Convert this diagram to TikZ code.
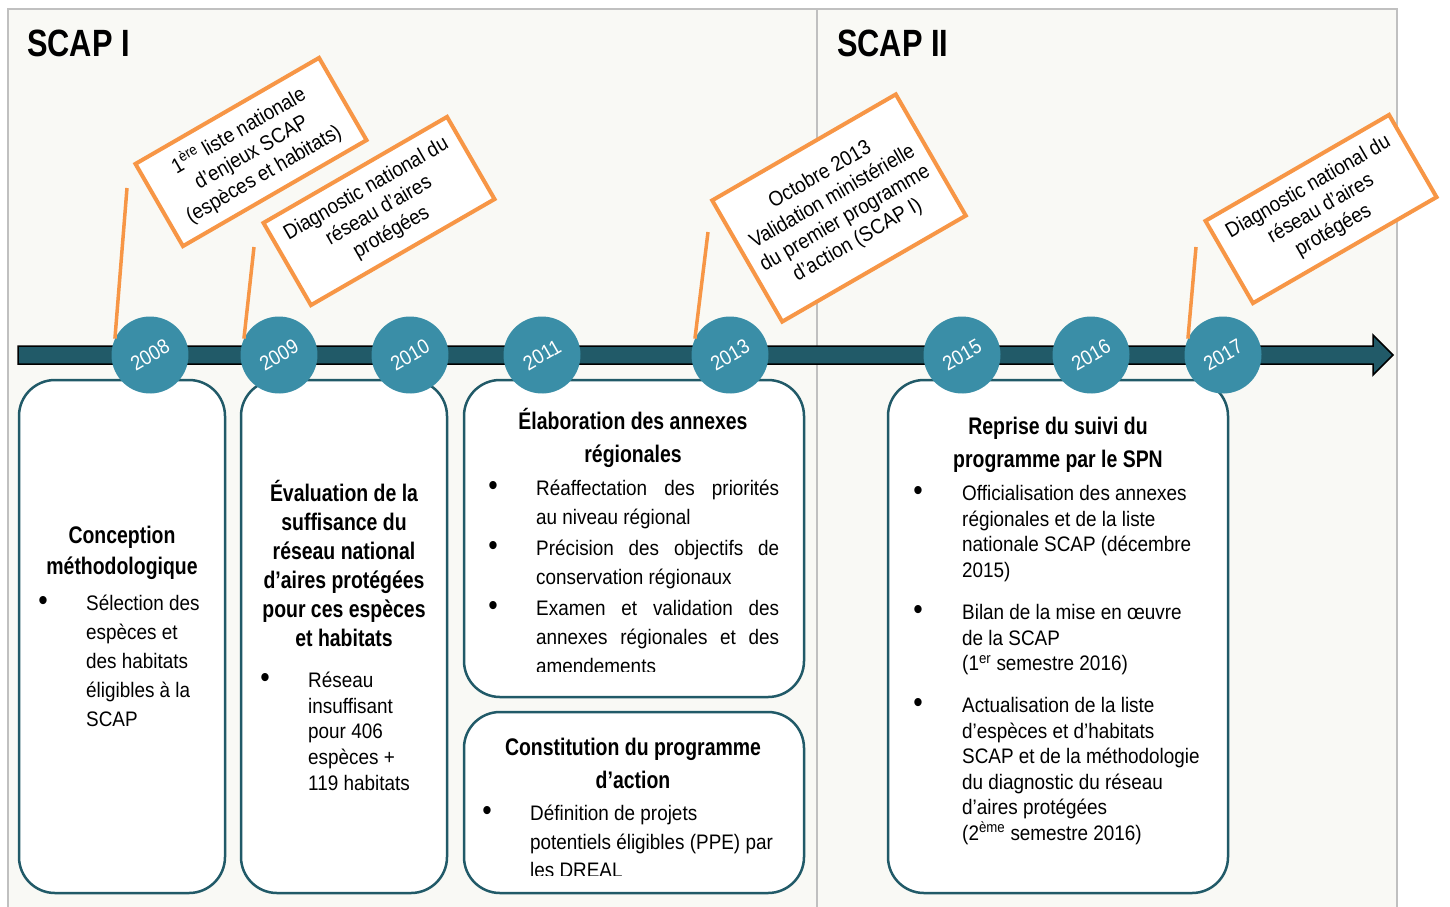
\documentclass[tikz,border=0pt]{standalone}
\usepackage{fontspec}
\setmainfont[FakeStretch=0.9]{Liberation Sans}
\newfontfamily\titrefont[FakeStretch=0.81]{Liberation Sans}

\definecolor{fond}{HTML}{F9F9F5}
\definecolor{cadre}{HTML}{C0C0C0}
\definecolor{orangec}{HTML}{F79646}
\definecolor{bleuc}{HTML}{3A8EA7}
\definecolor{petrole}{HTML}{215A68}

\tikzset{
  annee/.style={circle, fill=bleuc, minimum size=77pt, inner sep=0pt, text=white, rotate=30, font=\fontsize{20.5}{20}\selectfont},
  boite/.style={draw=petrole, line width=2.5pt, fill=white, rounded corners=36pt},
  bulle/.style={draw=orangec, line width=4pt, fill=white, rotate=30, minimum width=212pt, minimum height=95pt, align=center, inner sep=0pt, font=\fontsize{21}{25}\selectfont},
  pointe/.style={draw=orangec, line width=3.5pt},
  titre/.style={align=center, inner sep=0pt, font=\titrefont\bfseries\fontsize{24}{33}\selectfont},
  corps/.style={align=left, inner sep=0pt, anchor=north west, font=\fontsize{21}{25.6}\selectfont},
  puce/.style={inner sep=0pt, font=\fontsize{30}{30}\selectfont},
}

\begin{document}
\begin{tikzpicture}[x=1pt, y=-1pt]
\useasboundingbox (0,0) rectangle (1450,906);

% fond et separation
\draw [cadre, line width=2.5pt, fill=fond] (8,915) -- (8,9) -- (1397,9) -- (1397,915);
\draw [cadre, line width=2.5pt] (817,9) -- (817,915);

\node [anchor=west, inner sep=0pt, font=\titrefont\bfseries\fontsize{38}{38}\selectfont] (scap1) at (27,43) {SCAP I};
\node [anchor=west, inner sep=0pt, font=\titrefont\bfseries\fontsize{38}{38}\selectfont] (scap2) at (837,43) {SCAP II};

% frise
\draw [fill=petrole, line width=1.5pt]
(18,346)--(1373,346)--(1373,335)--(1393,355)--(1373,375)--(1373,364)--(18,364)--cycle;

% cadres
\draw [boite] (19,380) rectangle (225,893);
\draw [boite] (241,380) rectangle (447,893);
\draw [boite] (464,380) rectangle (804,697);
\draw [boite] (464,712) rectangle (804,893);
\draw [boite] (888,380) rectangle (1228,893);

% annees
\foreach \an/\x in {2008/150, 2009/279, 2010/410, 2011/542, 2013/730, 2015/962, 2016/1091, 2017/1223}
  \node [annee] (y\an) at (\x,355) {\an};

% evenements
\node [bulle] (b1) at (251,152) {1\textsuperscript{ère} liste nationale\\d’enjeux SCAP\\(espèces et habitats)};
\node [bulle] (b2) at (379,211) {Diagnostic national du\\réseau d’aires\\protégées};
\node [bulle, minimum height=140pt] (b3) at (839,208) {Octobre 2013\\Validation ministérielle\\du premier programme\\d’action (SCAP I)};
\node [bulle] (b4) at (1321,209) {Diagnostic national du\\réseau d’aires\\protégées};

\coordinate (p1) at (127,188);
\coordinate (p2) at (254,247);
\coordinate (p3) at (708,232);
\coordinate (p4) at (1196,247);
\draw [pointe] (p1) -- (y2008.125);
\draw [pointe] (p2) -- (y2009.125);
\draw [pointe] (p3) -- (y2013.125);
\draw [pointe] (p4) -- (y2017.125);

% SCAP I - 2008
\node [titre, font=\titrefont\bfseries\fontsize{24}{31}\selectfont] (t1) at (122,553) {Conception\\méthodologique};
\node [puce] (u1) at (43,603) {\textbullet};
\node [corps, font=\fontsize{21}{29}\selectfont] (c1) at (86,595) {Sélection des\\espèces et\\des habitats\\éligibles à la\\SCAP};

% 2009
\node [titre, font=\titrefont\bfseries\fontsize{24}{29}\selectfont] (t2) at (344,563) {Évaluation de la\\suffisance du\\réseau national\\d’aires protégées\\pour ces espèces\\et habitats};
\node [puce] (u2) at (265,680) {\textbullet};
\node [corps] (c2) at (308,672) {Réseau\\insuffisant\\pour 406\\espèces +\\119 habitats};

% 2011
\node [titre] (t3) at (633,438) {Élaboration des annexes\\régionales};
\node [puce] (u31) at (493,488) {\textbullet};
\node [puce] (u32) at (493,548) {\textbullet};
\node [puce] (u33) at (493,608) {\textbullet};
\begin{scope}
\clip (464,380) rectangle (804,671);
\node [corps, font=\fontsize{21}{29.3}\selectfont] (c31) at (536,480) {\makebox[243pt][s]{Réaffectation des priorités}\\au niveau régional};
\node [corps, font=\fontsize{21}{29.3}\selectfont] (c32) at (536,540) {\makebox[243pt][s]{Précision des objectifs de}\\conservation régionaux};
\node [corps, font=\fontsize{21}{29}\selectfont] (c33) at (536,600) {\makebox[243pt][s]{Examen et validation des}\\\makebox[243pt][s]{annexes régionales et des}\\amendements};
\end{scope}

\node [titre] (t4) at (633,763) {Constitution du programme\\d’action};
\node [puce] (u4) at (487,813) {\textbullet};
\begin{scope}
\clip (464,712) rectangle (804,875);
\node [corps, font=\fontsize{21}{28.5}\selectfont] (c4) at (530,805) {Définition de projets\\potentiels éligibles (PPE) par\\les DREAL};
\end{scope}

% SCAP II
\node [titre] (t5) at (1058,445) {Reprise du suivi du\\programme par le SPN};
\node [puce] (u51) at (918,493) {\textbullet};
\node [puce] (u52) at (918,612) {\textbullet};
\node [puce] (u53) at (918,705) {\textbullet};
\node [corps] (c51) at (962,485) {Officialisation des annexes\\régionales et de la liste\\nationale SCAP (décembre\\2015)};
\node [corps] (c52) at (962,604) {Bilan de la mise en œuvre\\de la SCAP\\(1\textsuperscript{er} semestre 2016)};
\node [corps] (c53) at (962,697) {Actualisation de la liste\\d’espèces et d’habitats\\SCAP et de la méthodologie\\du diagnostic du réseau\\d’aires protégées\\(2\textsuperscript{ème} semestre 2016)};
\end{tikzpicture}
\end{document}
